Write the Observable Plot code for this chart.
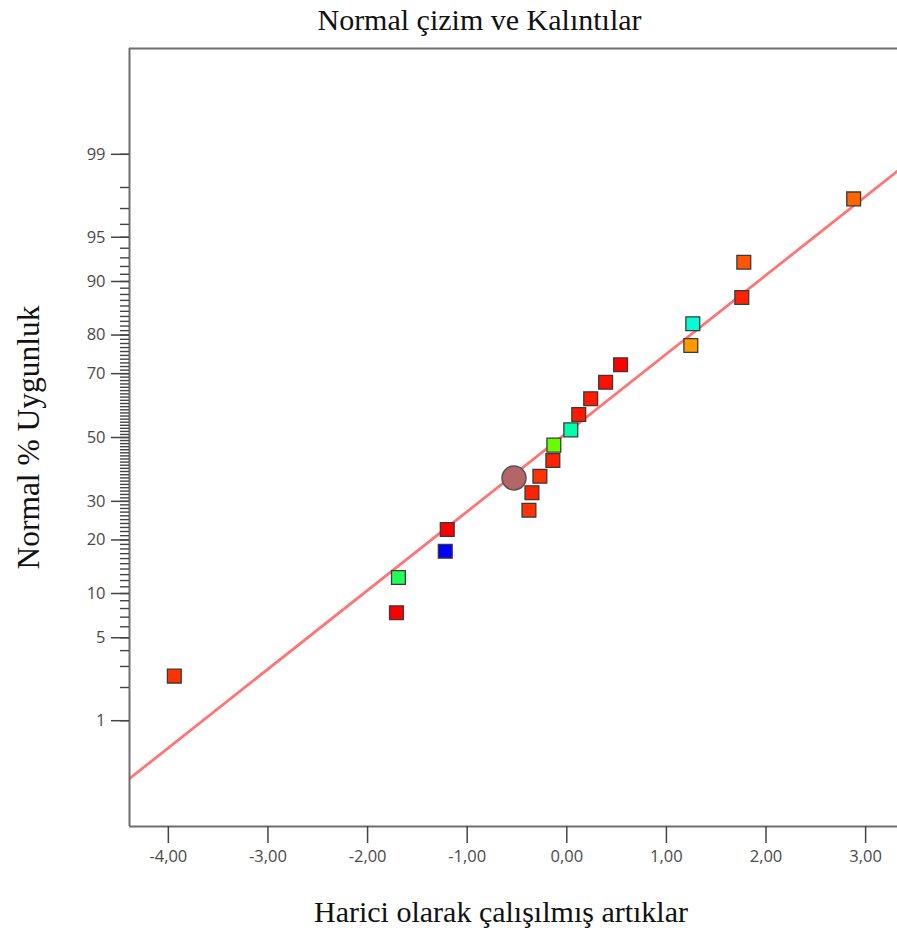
<!DOCTYPE html>
<html>
<head>
<meta charset="utf-8">
<script src="https://cdn.jsdelivr.net/npm/d3@7"></script>
<script src="https://cdn.jsdelivr.net/npm/@observablehq/plot@0.6"></script>
<style>
html, body { margin: 0; padding: 0; background: #fff; overflow: hidden; }
#title {
  box-sizing: border-box; width: 897px; padding-left: 62px;
  height: 40px; line-height: 40px; text-align: center;
  font-family: "Liberation Serif", "DejaVu Serif", serif; font-size: 30px; color: #111;
}
</style>
</head>
<body>
<div id="title">Normal çizim ve Kalıntılar</div>
<div id="chart"></div>
<script>
// ---- data ----
const resid = [-3.94, -1.71, -1.69, -1.22, -1.20, -0.38, -0.35, -0.27, -0.14, -0.13,
               0.04, 0.12, 0.24, 0.39, 0.54, 1.245, 1.265, 1.757, 1.777, 2.88];
const normPct = [2.5, 7.5, 12.5, 17.5, 22.5, 27.5, 32.5, 37.5, 42.5, 47.5,
                 52.5, 57.5, 62.5, 67.5, 72.5, 77.5, 82.5, 87.5, 92.5, 97.5];
const pointColors = ["#ff3300", "#ff0000", "#22ff55", "#0000ff", "#ff0000", "#ff3300", "#ff2200", "#ff3300", "#ff2200", "#66ff00",
                     "#00ffaa", "#ff1a00", "#ff1a00", "#ff1100", "#ff0000", "#ff9900", "#00ffd5", "#ff2200", "#ff5500", "#ff6600"];
const circleX = [-0.53];
const circlePct = [37];
const fitX = [-4.5, 3.5];
const fitPct = [0.203, 98.94];
const xDomain = [-4.39, 3.32];
const yDomainPct = [0.0698, 99.9302];
const xTicks = [-4, -3, -2, -1, 0, 1, 2, 3];
const xTickLabels = ["-4,00", "-3,00", "-2,00", "-1,00", "0,00", "1,00", "2,00", "3,00"];
const yMajorPct = [1, 5, 10, 20, 30, 50, 70, 80, 90, 95, 99];
const yMajorLabels = ["1", "5", "10", "20", "30", "50", "70", "80", "90", "95", "99"];
const yMinorPct = d3.range(1, 100);
const xTitle = "Harici olarak çalışılmış artıklar";
const yTitle = "Normal % Uygunluk";

// ---- probit transform (normal probability axis) ----
function probit(p) {
  const a = [-3.969683028665376e+01, 2.209460984245205e+02, -2.759285104469687e+02, 1.383577518672690e+02, -3.066479806614716e+01, 2.506628277459239e+00];
  const b = [-5.447609879822406e+01, 1.615858368580409e+02, -1.556989798598866e+02, 6.680131188771972e+01, -1.328068155288572e+01];
  const c = [-7.784894002430293e-03, -3.223964580411365e-01, -2.400758277161838e+00, -2.549671010229528e+00, 4.374664141464968e+00, 2.938163982698783e+00];
  const d = [7.784695709041462e-03, 3.224671290700398e-01, 2.445134137142996e+00, 3.754408661907416e+00];
  const plow = 0.02425, phigh = 1 - plow;
  let q, r;
  if (p < plow) {
    q = Math.sqrt(-2 * Math.log(p));
    return (((((c[0]*q+c[1])*q+c[2])*q+c[3])*q+c[4])*q+c[5]) / ((((d[0]*q+d[1])*q+d[2])*q+d[3])*q+1);
  } else if (p <= phigh) {
    q = p - 0.5; r = q * q;
    return (((((a[0]*r+a[1])*r+a[2])*r+a[3])*r+a[4])*r+a[5])*q / (((((b[0]*r+b[1])*r+b[2])*r+b[3])*r+b[4])*r+1);
  } else {
    q = Math.sqrt(-2 * Math.log(1 - p));
    return -(((((c[0]*q+c[1])*q+c[2])*q+c[3])*q+c[4])*q+c[5]) / ((((d[0]*q+d[1])*q+d[2])*q+d[3])*q+1);
  }
}
const z = pct => probit(pct / 100);

const points = resid.map((x, i) => ({x, z: z(normPct[i]), c: pointColors[i]}));
const circle = circleX.map((x, i) => ({x, z: z(circlePct[i])}));
const fitLine = fitX.map((x, i) => ({x, z: z(fitPct[i])}));
const zBot = z(yDomainPct[0]), zTop = z(yDomainPct[1]);
const majorZ = yMajorPct.map(z);
const majorLabel = new Map(majorZ.map((v, i) => [v, yMajorLabels[i]]));
const minorZ = yMinorPct.map(z);
const xLabel = new Map(xTicks.map((v, i) => [v, xTickLabels[i]]));

const serif = '"Liberation Serif", "DejaVu Serif", serif';

const chart = Plot.plot({
  width: 897,
  height: 894,
  marginLeft: 129,
  marginRight: 0,
  marginTop: 8,
  marginBottom: 108,
  style: {fontFamily: '"Open Sans", sans-serif', fontSize: "16px", background: "white", overflow: "visible"},
  x: {domain: xDomain, label: null},
  y: {domain: [zBot, zTop], label: null},
  color: {type: "identity"},
  marks: [
    Plot.line(fitLine, {x: "x", y: "z", stroke: "#ff7474", strokeWidth: 2.8, clip: true}),
    Plot.ruleX([xDomain[0]], {stroke: "#6e6e6e", strokeWidth: 2}),
    Plot.ruleY([zBot, zTop], {stroke: "#6e6e6e", strokeWidth: 2}),
    Plot.axisY(minorZ, {tickSize: 9, tickFormat: () => "", stroke: "#444", strokeWidth: 1.4, label: null}),
    Plot.axisY(majorZ, {tickSize: 18, tickPadding: 6, tickFormat: v => majorLabel.get(v), fill: "#4a4a4a", stroke: "#444", strokeWidth: 1.5, fontSize: 16.5, label: null}),
    Plot.axisX(xTicks, {tickSize: 17, tickPadding: 7, tickFormat: v => xLabel.get(v), fill: "#4a4a4a", stroke: "#444", strokeWidth: 1.5, fontSize: 16.5, label: null}),
    Plot.dot(points, {x: "x", y: "z", symbol: "square", r: 7.8, fill: "c", stroke: "#3a3a3a", strokeWidth: 1.3}),
    Plot.dot(circle, {x: "x", y: "z", r: 12, fill: "#b56468", stroke: "#555", strokeWidth: 1.5}),
    Plot.text([yTitle], {text: d => d, frameAnchor: "left", dx: -101, rotate: -90, fontFamily: serif, fontSize: 31.5, fill: "#111", textAnchor: "middle", lineAnchor: "middle"}),
    Plot.text([xTitle], {text: d => d, frameAnchor: "bottom", dx: -12.5, dy: 86, fontFamily: serif, fontSize: 30, fill: "#111", textAnchor: "middle", lineAnchor: "middle"})
  ]
});
document.getElementById("chart").appendChild(chart);
</script>
</body>
</html>
